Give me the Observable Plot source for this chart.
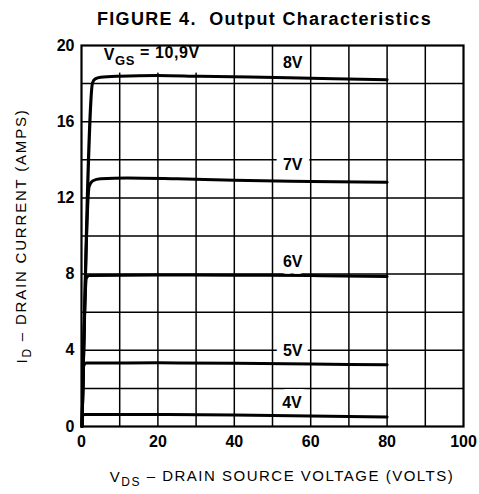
<!DOCTYPE html>
<html><head><meta charset="utf-8">
<script src="https://cdn.jsdelivr.net/npm/d3@7"></script>
<script src="https://cdn.jsdelivr.net/npm/@observablehq/plot@0.6"></script>
<style>
body{margin:0;background:#fff;}
#title{height:34px;box-sizing:border-box;padding-top:10px;padding-left:97px;font:bold 18px "Liberation Sans",Arial,sans-serif;line-height:18px;letter-spacing:1.3px;color:#000;white-space:nowrap;}
#chart svg{overflow:visible;}
</style></head><body>
<div id="title">FIGURE 4.&nbsp; Output Characteristics</div>
<div id="chart"></div>
<script>
// grid and tick values
const xGrid = [10, 20, 30, 40, 50, 60, 70, 80, 90];
const yGrid = [2, 4, 6, 8, 10, 12, 14, 16, 18];
const xTicks = [0, 20, 40, 60, 80, 100];
const yTicks = [0, 4, 8, 12, 16, 20];

// curves: VDS (volts) and ID (amps) per VGS
const vds4 = [0.15, 0.2, 1, 20, 40, 60, 80];
const id4  = [0, 0.6, 0.63, 0.63, 0.6, 0.55, 0.5];
const vds5 = [0.15, 0.6, 1.2, 20, 40, 60, 80];
const id5  = [0, 3.2, 3.33, 3.34, 3.32, 3.28, 3.24];
const vds6 = [0.15, 1.3, 2, 20, 40, 60, 80];
const id6  = [0, 7.8, 7.92, 7.95, 7.94, 7.92, 7.88];
const vds7 = [0.15, 2.0, 3, 5, 12, 25, 40, 60, 80];
const id7  = [0, 12.6, 12.9, 13.0, 13.05, 13.0, 12.92, 12.86, 12.82];
const vds8 = [0.15, 2.9, 3.6, 5, 10, 20, 31, 44, 60, 80];
const id8  = [0, 18.05, 18.25, 18.33, 18.39, 18.43, 18.38, 18.34, 18.28, 18.2];

// curve labels
const labelText = ["8V", "7V", "6V", "5V", "4V"];
const labelVds  = [55.3, 55.3, 55.3, 55.3, 55.1];
const labelId   = [19.08, 13.72, 8.66, 3.96, 1.23];

// VGS annotation
const vgsText = "V_GS = 10,9V";
const vgsVds = [5.8];
const vgsId = [19.53];
const vgsBoxX = [3, 36];
const vgsBoxY = [18.55, 20];

const curves = [
  ["4V", vds4, id4], ["5V", vds5, id5], ["6V", vds6, id6], ["7V", vds7, id7], ["8V", vds8, id8]
];
const pts = curves.flatMap(([k, xs, ys]) => xs.map((x, i) => ({vgs: k, vds: x, id: ys[i]})));
const labels = labelText.map((t, i) => ({t, x: labelVds[i], y: labelId[i]}));
const vgsLab = vgsVds.map((x, i) => ({t: vgsText, x, y: vgsId[i]}));
const box = [{x1: vgsBoxX[0], x2: vgsBoxX[1], y1: vgsBoxY[0], y2: vgsBoxY[1]}];

const FONT = "Liberation Sans, Arial, sans-serif";
const plot = Plot.plot({
  width: 479, height: 460,
  marginLeft: 81, marginRight: 16, marginTop: 11, marginBottom: 68,
  style: {fontFamily: FONT, fontSize: "16px", color: "#000", background: "#fff"},
  x: {domain: [0, 100]},
  y: {domain: [0, 20]},
  marks: [
    Plot.gridX(xGrid, {stroke: "#000", strokeOpacity: 1, strokeWidth: 1.5}),
    Plot.gridY(yGrid, {stroke: "#000", strokeOpacity: 1, strokeWidth: 1.5}),
    Plot.rect(box, {x1: "x1", x2: "x2", y1: "y1", y2: "y2", fill: "#fff"}),
    Plot.text(labels, {x: "x", y: "y", text: "t", fontSize: 16, fontWeight: "bold", fill: "#000", stroke: "#fff", strokeWidth: 14}),
    Plot.text(vgsLab, {x: "x", y: "y", text: "t", textAnchor: "start", fontSize: 16, fontWeight: "bold", fill: "#000"}),
    Plot.line(pts, {x: "vds", y: "id", z: "vgs", stroke: "#000", strokeWidth: 3, curve: "monotone-x"}),
    Plot.frame({stroke: "#000", strokeWidth: 2.2}),
    Plot.axisX(xTicks, {tickSize: 0, tickPadding: 9, fontWeight: "bold", fontSize: 16, label: null}),
    Plot.axisY(yTicks, {tickSize: 0, tickPadding: 7, fontWeight: "bold", fontSize: 16, label: null})
  ]
});
document.getElementById("chart").appendChild(plot);

const svg = d3.select(plot);
// subscript in VGS label
svg.selectAll("text").filter(function() { return this.textContent === vgsText; }).each(function() {
  const t = d3.select(this);
  t.text("");
  t.attr("letter-spacing", "0.6px");
  t.append("tspan").text("V");
  t.append("tspan").attr("dy", "0.38em").attr("font-size", "13px").text("GS");
  t.append("tspan").attr("dy", "-0.38em").text(" = 10,9V");
});

// axis titles
const xl = svg.append("text").attr("x", 282).attr("y", 448).attr("text-anchor", "middle")
  .attr("font-family", FONT).attr("font-size", 15).attr("letter-spacing", "1.5px").attr("fill", "#000");
xl.append("tspan").text("V");
xl.append("tspan").attr("dy", "0.35em").attr("font-size", "12px").text("DS");
xl.append("tspan").attr("dy", "-0.35em").text(" \u2013 DRAIN SOURCE VOLTAGE (VOLTS)");

const yl = svg.append("text").attr("transform", "translate(27,202) rotate(-90)").attr("text-anchor", "middle")
  .attr("font-family", FONT).attr("font-size", 15).attr("letter-spacing", "1.8px").attr("fill", "#000");
yl.append("tspan").text("I");
yl.append("tspan").attr("dy", "0.35em").attr("font-size", "12px").text("D");
yl.append("tspan").attr("dy", "-0.35em").text(" \u2013 DRAIN CURRENT (AMPS)");
</script>
</body></html>
